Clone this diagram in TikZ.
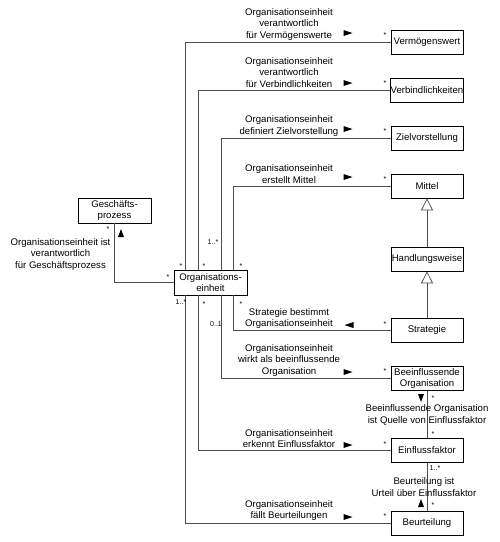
\documentclass[tikz,border=0pt]{standalone}
\usepackage{fontspec}
\setmainfont{Liberation Sans}
\usetikzlibrary{arrows.meta}
\begin{document}
\begin{tikzpicture}[x=1pt,y=-1pt,
  box/.style={draw, line width=0.7pt, minimum width=72pt, minimum height=24pt, inner sep=0.5pt, align=center, font=\fontsize{9.6}{11}\selectfont},
  lbl/.style={align=center, inner sep=0pt, font=\fontsize{9.6}{11.5}\selectfont},
  mult/.style={inner sep=0pt, font=\fontsize{7}{8}\selectfont},
  conn/.style={line width=0.7pt, draw=black!70},
  gen/.style={conn, -{Triangle[open, length=12pt, width=12pt]}},
  dirR/.pic={\fill (-4.5,-3)--(4.5,0)--(-4.5,3)--cycle;},
  dirL/.pic={\fill (4.5,-3)--(-4.5,0)--(4.5,3)--cycle;},
  dirD/.pic={\fill (-3,-4)--(3,-4)--(0,4)--cycle;},
  dirU/.pic={\fill (-3,4)--(3,4)--(0,-4)--cycle;}
]
\useasboundingbox (0,0) rectangle (500,542);

% boxes
\node[box] (vw) at (427,42) {Vermögenswert};
\node[box] (vb) at (427,90) {Verbindlichkeiten};
\node[box] (zv) at (427,138) {Zielvorstellung};
\node[box] (mi) at (427,186) {Mittel};
\node[box] (hw) at (427,259) {Handlungsweise};
\node[box] (st) at (427,330.5) {Strategie};
\node[box] (bo) at (427,378.5) {Beeinflussende\\Organisation};
\node[box] (ef) at (427,450.5) {Einflussfaktor};
\node[box] (bu) at (427,523) {Beurteilung};
\node[box, minimum width=73pt, minimum height=25pt] (oe) at (210.5,282.5) {Organisations-\\einheit};
\node[box, minimum width=73pt, minimum height=25pt] (gp) at (114.5,210.5) {Geschäfts-\\prozess};

% connectors
\draw[conn] (vw.west) -| ([xshift=12pt]oe.north west);
\draw[conn] (vb.west) -| ([xshift=25pt]oe.north west);
\draw[conn] (zv.west) -| ([xshift=48pt]oe.north west);
\draw[conn] (mi.west) -| ([xshift=60pt]oe.north west);
\draw[conn] (bu.west) -| ([xshift=12pt]oe.south west);
\draw[conn] (ef.west) -| ([xshift=25pt]oe.south west);
\draw[conn] (bo.west) -| ([xshift=48pt]oe.south west);
\draw[conn] (st.west) -| ([xshift=60pt]oe.south west);
\draw[conn] (gp.south) |- (oe.west);
\draw[conn] (bo.south) -- (ef.north);
\draw[conn] (ef.south) -- (bu.north);
\draw[gen] (hw.north) -- (mi.south);
\draw[gen] (st.north) -- (hw.south);

% labels
\node[lbl] (l1) at (289,24.5) {Organisationseinheit\\verantwortlich\\für Vermögenswerte};
\node[lbl] (l2) at (289,72.5) {Organisationseinheit\\verantwortlich\\für Verbindlichkeiten};
\node[lbl] (l3) at (289,126) {Organisationseinheit\\definiert Zielvorstellung};
\node[lbl] (l4) at (289,174) {Organisationseinheit\\erstellt Mittel};
\node[lbl] (l5) at (289,318.5) {Strategie bestimmt\\Organisationseinheit};
\node[lbl] (l6) at (289,360.5) {Organisationseinheit\\wirkt als beeinflussende\\Organisation};
\node[lbl] (l7) at (289,438.5) {Organisationseinheit\\erkennt Einflussfaktor};
\node[lbl] (l8) at (289,510.5) {Organisationseinheit\\fällt Beurteilungen};
\node[lbl] (l9) at (427,415) {Beeinflussende Organisation\\ist Quelle von Einflussfaktor};
\node[lbl] (l10) at (424,487) {Beurteilung ist\\Urteil über Einflussfaktor};
\node[lbl] (l11) at (60.5,254.5) {Organisationseinheit ist\\verantwortlich\\für Geschäftsprozess};

% reading direction
\pic at (348,33) {dirR};
\pic at (348,83) {dirR};
\pic at (348,129) {dirR};
\pic at (348,177) {dirR};
\pic at (349,325) {dirL};
\pic at (348,372) {dirR};
\pic at (348,445) {dirR};
\pic at (348,517) {dirR};
\pic at (421,398) {dirD};
\pic at (421,503) {dirU};
\pic at (121,233) {dirU};

% multiplicities
\node[mult] (m1) at (385,35) {*};
\node[mult] (m2) at (385,83) {*};
\node[mult] (m3) at (385,131) {*};
\node[mult] (m4) at (385,179) {*};
\node[mult] (m5) at (385,324) {*};
\node[mult] (m6) at (385,371) {*};
\node[mult] (m7) at (385,444) {*};
\node[mult] (m8) at (385,516) {*};
\node[mult] (m9) at (181,266) {*};
\node[mult] (m10) at (204,266) {*};
\node[mult] (m11) at (213,242) {1..*};
\node[mult] (m12) at (241,266) {*};
\node[mult] (m13) at (181,302) {1..*};
\node[mult] (m14) at (204,304) {*};
\node[mult] (m15) at (216,324) {0..1};
\node[mult] (m16) at (241,304) {*};
\node[mult] (m17) at (168,277) {*};
\node[mult] (m18) at (108,229) {*};
\node[mult] (m19) at (433,398) {*};
\node[mult] (m20) at (433,434) {*};
\node[mult] (m21) at (435,468) {1..*};
\node[mult] (m22) at (433,505) {*};
\end{tikzpicture}
\end{document}
